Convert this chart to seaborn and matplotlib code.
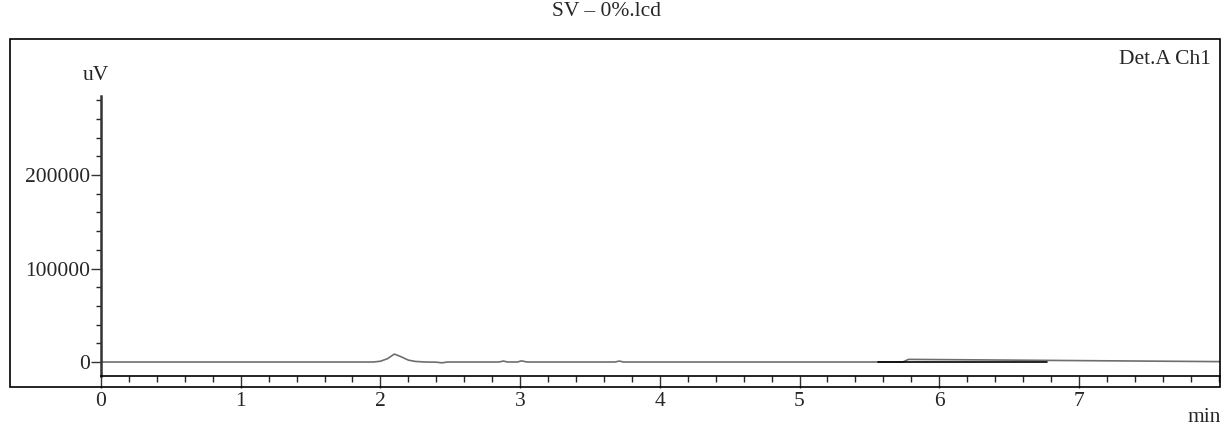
import numpy as np
import pandas as pd
import seaborn as sns
import matplotlib.pyplot as plt
from matplotlib.patches import Rectangle
from matplotlib.ticker import MultipleLocator

# chromatogram trace (min, uV)
time_min = [0.00, 1.95, 2.00, 2.05, 2.10, 2.15, 2.20, 2.25, 2.32, 2.40, 2.44, 2.48,
            2.85, 2.88, 2.91, 2.98, 3.01, 3.05, 3.68, 3.71, 3.74, 5.74, 5.78, 8.01]
signal_uv = [0, 0, 800, 3500, 8500, 5500, 2000, 600, 0, -200, -900, 0,
             0, 1000, 0, 0, 1200, 0, 0, 1000, 0, 0, 2800, 400]

# integration baseline segment
base_time = [5.56, 5.74, 6.77]
base_uv = [0, 0, 0]

x_ticks = [0, 1, 2, 3, 4, 5, 6, 7]
y_ticks = [0, 100000, 200000]

title = "SV – 0%.lcd"
detector = "Det.A Ch1"

sns.set_style("ticks")
plt.rcParams["font.family"] = ["Liberation Serif", "DejaVu Serif"]
plt.rcParams["font.size"] = 15.5

W, H = 1223, 433
fig = plt.figure(figsize=(W / 100, H / 100), dpi=100)

# outer frame
fig.patches.append(Rectangle((10 / W, 1 - 387 / H), (1220 - 10) / W, (387 - 39) / H,
                             transform=fig.transFigure, fill=False,
                             edgecolor="black", linewidth=1.2, zorder=0))

ax = fig.add_axes([101 / W, 1 - 376 / H, (1220 - 101) / W, (376 - 96) / H])
ax.patch.set_alpha(0)

trace = pd.DataFrame({"time": time_min, "uV": signal_uv})
sns.lineplot(data=trace, x="time", y="uV", ax=ax, color="#6e6e6e", linewidth=1.2)
base = pd.DataFrame({"time": base_time, "uV": base_uv})
sns.lineplot(data=base, x="time", y="uV", ax=ax, color="black", linewidth=1.2)

ax.set_xlim(0, 8.01)
ax.set_ylim(-14973, 284492)
ax.set_xticks(x_ticks)
ax.set_yticks(y_ticks)
ax.xaxis.set_minor_locator(MultipleLocator(0.2))
ax.yaxis.set_minor_locator(MultipleLocator(20000))
ax.set_xlabel("")
ax.set_ylabel("")

for s in ["top", "right"]:
    ax.spines[s].set_visible(False)
ax.spines["left"].set_color("#333333")
ax.spines["left"].set_linewidth(1.8)
ax.spines["bottom"].set_color("black")
ax.spines["bottom"].set_linewidth(1.2)

ax.tick_params(axis="x", which="major", direction="out", length=8.6, width=1, pad=3,
               labelsize=15.5, color="#333333")
ax.tick_params(axis="x", which="minor", direction="out", length=4.3, width=1)
ax.tick_params(axis="y", which="major", direction="out", length=7.2, width=1, pad=0.5,
               labelsize=15.5, color="#333333")
ax.tick_params(axis="y", which="minor", direction="out", length=3.6, width=1)

fig.text(607 / W, 1 - 11 / H, title, ha="center", va="center", fontsize=15.5)
fig.text(1211 / W, 1 - 60 / H, detector, ha="right", va="center", fontsize=15.5)
fig.text(96 / W, 1 - 75 / H, "uV", ha="center", va="center", fontsize=15.5)
fig.text(1221 / W, 1 - 418 / H, "min", ha="right", va="center", fontsize=15.5)

fig.savefig("out.png", dpi=100)
